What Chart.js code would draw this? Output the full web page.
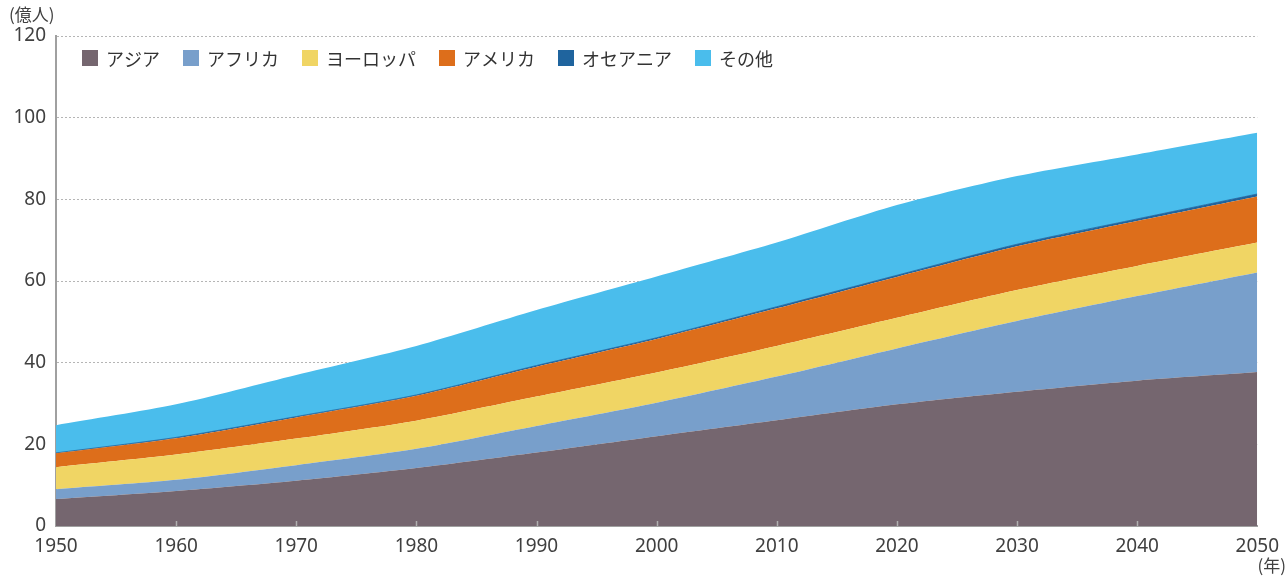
<!DOCTYPE html>
<html lang="ja">
<head>
<meta charset="utf-8">
<script src="https://cdn.jsdelivr.net/npm/chart.js@4/dist/chart.umd.min.js"></script>
<style>
  html, body { margin: 0; padding: 0; background: #fff; }
  #wrap { width: 1288px; height: 582px; }
</style>
</head>
<body>
<div id="wrap"><canvas id="popChart" width="1288" height="582"></canvas></div>
<script>
// 世界人口の推移 (億人)
const years = [1950, 1960, 1970, 1980, 1990, 2000, 2010, 2020, 2030, 2040, 2050];
const asia     = [6.6, 8.6, 11.1, 14.2, 18.0, 22.0, 25.9, 29.8, 32.9, 35.6, 37.7];
const africa   = [2.4, 2.7, 3.8, 4.7, 6.5, 8.2, 10.7, 13.7, 17.3, 20.7, 24.4];
const europe   = [5.4, 6.2, 6.5, 6.9, 7.2, 7.4, 7.5, 7.5, 7.6, 7.4, 7.3];
const americas = [3.4, 4.0, 5.2, 6.1, 7.3, 8.2, 9.2, 10.0, 10.7, 11.0, 11.3];
const oceania  = [0.1, 0.2, 0.2, 0.2, 0.3, 0.3, 0.4, 0.4, 0.5, 0.5, 0.6];
const others   = [6.8, 8.1, 10.2, 12.0, 13.6, 15.0, 15.7, 17.2, 16.7, 15.8, 15.0];

const seriesNames = ["アジア", "アフリカ", "ヨーロッパ", "アメリカ", "オセアニア", "その他"];
const seriesValues = [asia, africa, europe, americas, oceania, others];
const seriesColors = ["#75666f", "#789fcb", "#f0d564", "#dd6e1b", "#1f649e", "#4abdec"];
const yTicks = [0, 20, 40, 60, 80, 100, 120];

const FONT = "'Noto Sans', 'Noto Sans CJK JP', sans-serif";
const TEXT = "#404040";

const datasets = seriesNames.map((name, i) => ({
  label: name,
  data: years.map((yr, j) => ({ x: yr, y: seriesValues[i][j] })),
  fill: i === 0 ? "origin" : "-1",
  backgroundColor: seriesColors[i],
  borderColor: seriesColors[i],
  borderWidth: i === 4 ? 0.8 : 0,
  pointRadius: 0,
  tension: 0.25
}));

// legend inside the plot (one row), unit labels, small x tick marks
const extras = {
  id: "extras",
  afterDatasetsDraw(chart) {
    const { ctx, scales: { x }, chartArea } = chart;
    ctx.save();
    ctx.strokeStyle = "#b0b0b0";
    ctx.lineWidth = 1.5;
    years.forEach(yr => {
      if (yr === years[0] || yr === years[years.length - 1]) return;
      const px = Math.round(x.getPixelForValue(yr)) + 0.5;
      ctx.beginPath();
      ctx.moveTo(px, chartArea.bottom);
      ctx.lineTo(px, chartArea.bottom - 5);
      ctx.stroke();
    });
    ctx.restore();
  },
  afterDraw(chart) {
    const { ctx } = chart;
    ctx.save();
    // legend
    ctx.font = "18px 'Noto Sans CJK JP', sans-serif";
    ctx.textBaseline = "middle";
    ctx.textAlign = "left";
    let lx = 82;
    const ly = 58;
    chart.data.datasets.forEach(ds => {
      ctx.fillStyle = ds.backgroundColor;
      ctx.fillRect(lx, ly - 8, 16, 16);
      ctx.fillStyle = "#333";
      ctx.fillText(ds.label, lx + 24, ly + 1);
      lx += 24 + ctx.measureText(ds.label).width + 23;
    });
    // unit labels
    ctx.fillStyle = TEXT;
    ctx.font = "17px 'Noto Sans CJK JP', sans-serif";
    ctx.fillText("(億人)", 9, 15);
    ctx.textAlign = "right";
    ctx.fillText("(年)", 1286, 566);
    ctx.restore();
  }
};

const chart = new Chart(document.getElementById("popChart"), {
  type: "line",
  data: { datasets },
  options: {
    responsive: false,
    animation: false,
    layout: { padding: { top: 36, right: 28, left: 0, bottom: 0 } },
    plugins: {
      tooltip: { enabled: false },
      legend: { display: false }
    },
    scales: {
      x: {
        type: "linear",
        min: years[0],
        max: years[years.length - 1],
        afterFit: s => { s.height = 56; },
        afterBuildTicks: s => { s.ticks = years.map(v => ({ value: v })); },
        ticks: {
          color: TEXT,
          padding: 9,
          maxRotation: 0,
          font: { family: FONT, size: 19 },
          callback: v => String(v)
        },
        grid: { drawOnChartArea: false, drawTicks: false },
        border: { display: true, color: "#a0a0a0", width: 2 }
      },
      y: {
        stacked: true,
        min: 0,
        max: 120,
        afterFit: s => { s.width = 56; },
        afterBuildTicks: s => { s.ticks = yTicks.map(v => ({ value: v })); },
        ticks: {
          color: TEXT,
          padding: 10,
          font: { family: FONT, size: 19 }
        },
        grid: { color: "#b5b5b5", lineWidth: 1, drawTicks: false },
        border: { display: true, color: "#a0a0a0", width: 2, dash: [2, 2] }
      }
    }
  },
  plugins: [extras]
});
</script>
</body>
</html>
